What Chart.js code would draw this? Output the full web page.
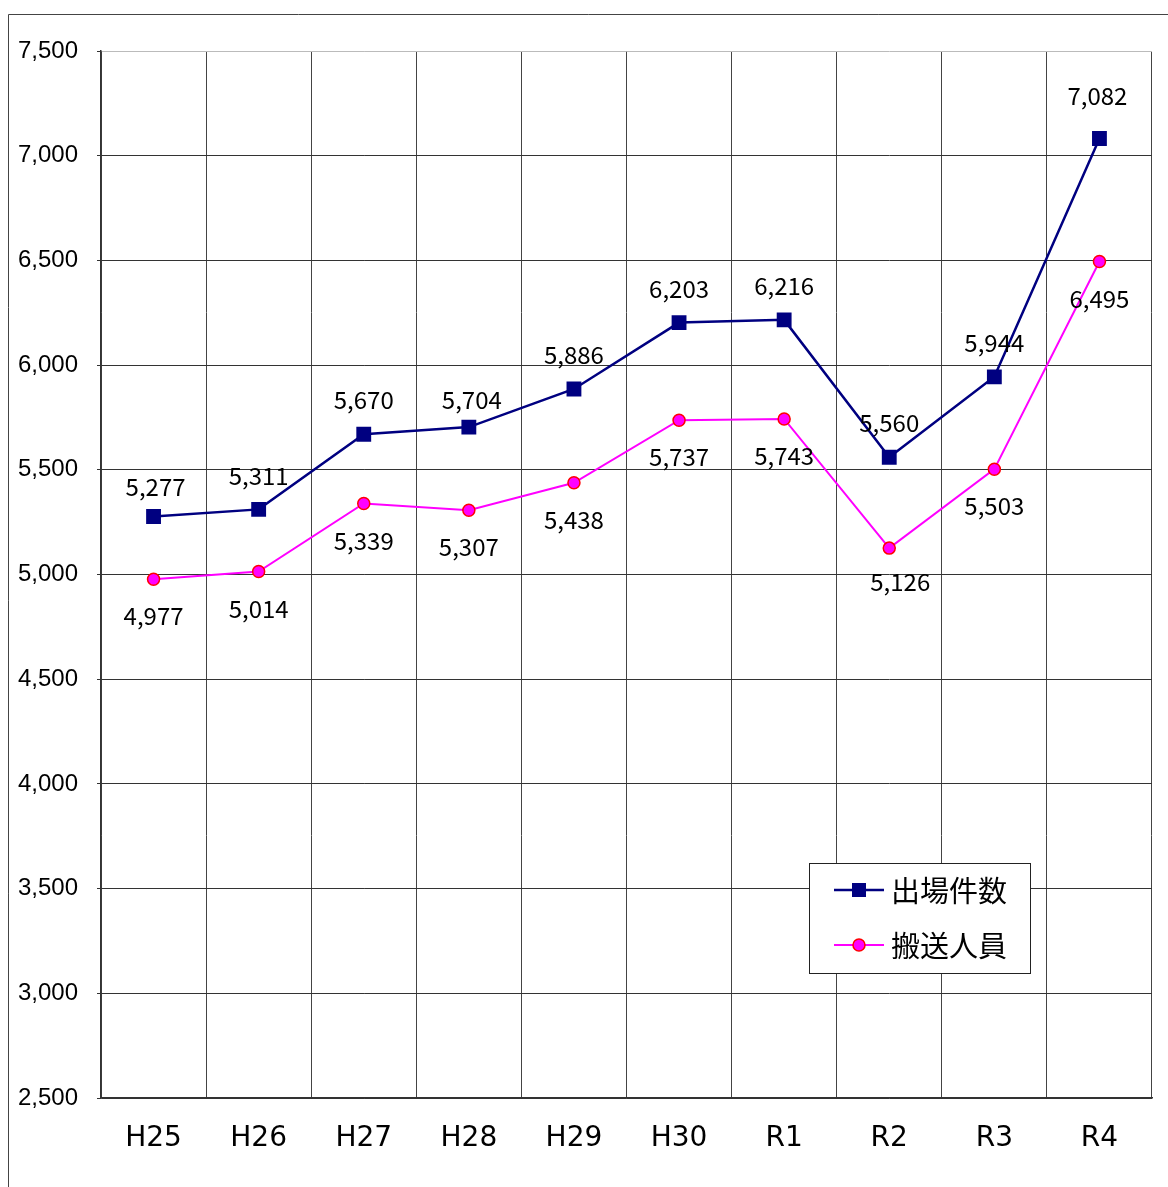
<!DOCTYPE html>
<html><head><meta charset="utf-8">
<script src="https://cdn.jsdelivr.net/npm/chart.js@4/dist/chart.umd.min.js"></script>
<style>html,body{margin:0;padding:0;background:#fff;}#wrap{position:relative;width:1168px;height:1187px;}</style>
</head><body><div id="wrap"><canvas id="c" width="1168" height="1187"></canvas></div>
<script>
const categories = ['H25','H26','H27','H28','H29','H30','R1','R2','R3','R4'];
const dispatchCount = [5277, 5311, 5670, 5704, 5886, 6203, 6216, 5560, 5944, 7082];
const transported = [4977, 5014, 5339, 5307, 5438, 5737, 5743, 5126, 5503, 6495];
const yTicks = [2500, 3000, 3500, 4000, 4500, 5000, 5500, 6000, 6500, 7000, 7500];
const seriesNames = ['出場件数', '搬送人員'];

const fmt = v => v.toLocaleString('en-US');

const framePlugin = {
  id: 'frame',
  beforeDraw(chart) {
    const ctx = chart.ctx;
    ctx.save();
    ctx.strokeStyle = '#444';
    ctx.lineWidth = 1;
    ctx.beginPath();
    ctx.moveTo(8.5, 1187); ctx.lineTo(8.5, 14.5); ctx.lineTo(1168, 14.5);
    ctx.stroke();
    ctx.restore();
  }
};

const labelPlugin = {
  id: 'valueLabels',
  afterDatasetsDraw(chart, args, opts) {
    const ctx = chart.ctx;
    ctx.save();
    ctx.font = '24px "Noto Sans CJK JP", sans-serif';
    ctx.fillStyle = '#000';
    ctx.textAlign = 'center';
    ctx.textBaseline = 'middle';
    chart.data.datasets.forEach((ds, di) => {
      const meta = chart.getDatasetMeta(di);
      meta.data.forEach((pt, i) => {
        const o = (opts.offsets[di][i]) || opts.defaults[di];
        ctx.fillText(fmt(ds.data[i]), pt.x + o[0], pt.y + o[1]);
      });
    });
    ctx.restore();
  }
};

const legendPlugin = {
  id: 'boxLegend',
  afterDraw(chart) {
    const ctx = chart.ctx;
    ctx.save();
    ctx.fillStyle = '#fff';
    ctx.fillRect(809, 863, 221, 110);
    ctx.strokeStyle = '#222';
    ctx.lineWidth = 1;
    ctx.strokeRect(809.5, 863.5, 221, 110);
    const rows = [890, 945];
    chart.data.datasets.forEach((ds, di) => {
      const y = rows[di];
      ctx.strokeStyle = ds.borderColor;
      ctx.lineWidth = ds.borderWidth;
      ctx.beginPath(); ctx.moveTo(834, y); ctx.lineTo(884, y); ctx.stroke();
      if (di === 0) {
        ctx.fillStyle = ds.pointBackgroundColor;
        ctx.fillRect(852, y - 7, 14, 14);
      } else {
        ctx.beginPath(); ctx.arc(859, y, 6, 0, Math.PI * 2);
        ctx.fillStyle = ds.pointBackgroundColor; ctx.fill();
        ctx.lineWidth = 1.5; ctx.strokeStyle = ds.pointBorderColor; ctx.stroke();
      }
      ctx.fillStyle = '#000';
      ctx.font = '29px "Noto Sans CJK JP", sans-serif';
      ctx.textAlign = 'left';
      ctx.textBaseline = 'middle';
      ctx.fillText(ds.label, 891, y + 1);
    });
    ctx.restore();
  }
};

new Chart(document.getElementById('c'), {
  type: 'line',
  data: {
    labels: categories,
    datasets: [
      {
        label: seriesNames[0], data: dispatchCount,
        borderColor: '#000080', backgroundColor: '#000080', borderWidth: 2.5,
        pointStyle: 'rect', pointRadius: 10.5, pointBackgroundColor: '#000080',
        pointBorderColor: '#000080', pointBorderWidth: 0, tension: 0
      },
      {
        label: seriesNames[1], data: transported,
        borderColor: '#ff00ff', backgroundColor: '#ff00ff', borderWidth: 2,
        pointStyle: 'circle', pointRadius: 6, pointBackgroundColor: '#ff00ff',
        pointBorderColor: '#ff0000', pointBorderWidth: 1.5, tension: 0
      }
    ]
  },
  plugins: [framePlugin, labelPlugin, legendPlugin],
  options: {
    responsive: false,
    animation: false,
    events: [],
    layout: { padding: { left: 0, top: 51, right: 16, bottom: 0 } },
    plugins: {
      legend: { display: false },
      tooltip: { enabled: false },
      valueLabels: {
        defaults: [[0, -34], [0, 37]],
        offsets: [
          [[2,-30],null,null,[3,-27],null,null,null,null,null,[-2,-43]],
          [null,null,null,null,null,null,null,[11,34],null,null]
        ]
      }
    },
    scales: {
      x: {
        type: 'category',
        offset: true,
        afterFit(s) { s.height = 89; },
        grid: {
          offset: true, drawTicks: false,
          color: ctx => (ctx.index === 10 ? '#cccccc' : '#444'),
          lineWidth: 1
        },
        border: { color: '#333', width: 1.5 },
        ticks: {
          color: '#000', padding: 24,
          font: { family: '"DejaVu Sans", sans-serif', size: 28 }
        }
      },
      y: {
        min: 2500, max: 7500,
        afterFit(s) { s.width = 101; },
        afterBuildTicks(s) { s.ticks = yTicks.map(v => ({ value: v })); },
        grid: {
          color: ctx => (ctx.tick && ctx.tick.value === 7500 ? '#bbbbbb' : '#333'),
          lineWidth: 1, tickLength: 4, tickColor: '#333'
        },
        border: { color: '#333', width: 1.5 },
        ticks: {
          color: '#000', padding: 19,
          font: { family: '"Liberation Sans", Arial, sans-serif', size: 24 },
          callback: v => fmt(v)
        }
      }
    }
  }
});
</script></body></html>
